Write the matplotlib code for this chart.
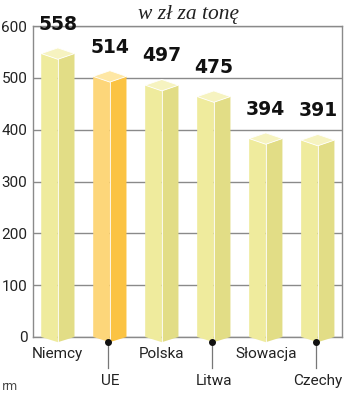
import matplotlib.pyplot as plt

countries = ["Niemcy", "UE", "Polska", "Litwa", "Słowacja", "Czechy"]
prices = [558, 514, 497, 475, 394, 391]
highlight = "UE"

# colours: cap, left face, right face
pale = ("#f6f3c0", "#efeb9d", "#e2dd86")
gold = ("#fee7a4", "#fdd67a", "#fbc343")

def draw_pillar(ax, x, v, cols, w=0.32, d=11, tip=10):
    cap, left, right = cols
    ax.fill([x - w, x, x, x - w], [0, -tip, v - 2 * d, v - d], color=left, lw=0, zorder=3, clip_on=False)
    ax.fill([x, x + w, x + w, x], [-tip, 0, v - d, v - 2 * d], color=right, lw=0, zorder=3, clip_on=False)
    ax.fill([x - w, x, x + w, x], [v - d, v - 2 * d, v - d, v], facecolor=cap,
            edgecolor="white", lw=0.6, zorder=4, clip_on=False)
    ax.plot([x, x], [-tip, v - 2 * d], color="white", lw=0.6, zorder=4, clip_on=False)


def main():
    fig = plt.figure(figsize=(3.5, 3.96), dpi=100)
    ax = fig.add_axes([0.094, 0.149, 0.883, 0.785])

    for i, (c, v) in enumerate(zip(countries, prices)):
        draw_pillar(ax, i, v, gold if c == highlight else pale)
        ax.annotate(str(v), (i, v), xytext=(0, 17), textcoords="offset points",
                    ha="center", va="center", fontsize=13.5, fontweight="bold",
                    family="DejaVu Sans", color="#111111", zorder=5)

    ax.set_xlim(-0.48, 5.465)
    ax.set_ylim(0, 600)
    ax.set_yticks(range(0, 601, 100))
    ax.yaxis.grid(True, color="#8a8a8a", lw=1)
    ax.set_axisbelow(True)
    for s in ax.spines.values():
        s.set_color("#8a8a8a")
        s.set_linewidth(1)

    ax.set_xticks(range(len(countries)))
    ax.set_xticklabels(countries, family="Roboto", fontsize=11, color="#222222")
    for lab in ax.get_yticklabels():
        lab.set_family("Roboto")
        lab.set_fontsize(11)
    ax.tick_params(axis="y", length=0, pad=4, labelcolor="#222222")
    ax.tick_params(axis="x", length=0)
    for i, t in enumerate(ax.xaxis.get_major_ticks()):
        t.set_pad(27 if i % 2 else 7)

    # pointer lines for the lower row of labels
    for i in range(1, len(countries), 2):
        ax.plot([i - 0.03, i - 0.03], [-9, -60], color="#777777", lw=0.9, clip_on=False, zorder=5)
        ax.plot([i - 0.03], [-9], "o", color="#111111", ms=4, clip_on=False, zorder=6)

    fig.text(0.54, 0.963, "w zł za tonę", ha="center", va="center", fontsize=15.5,
             style="italic", family="Liberation Serif", color="#222222")
    fig.text(0.006, 0.014, "rm", fontsize=8.5, color="#444444", family="DejaVu Sans")

    fig.savefig("out.png", dpi=100)


if __name__ == "__main__":
    main()
